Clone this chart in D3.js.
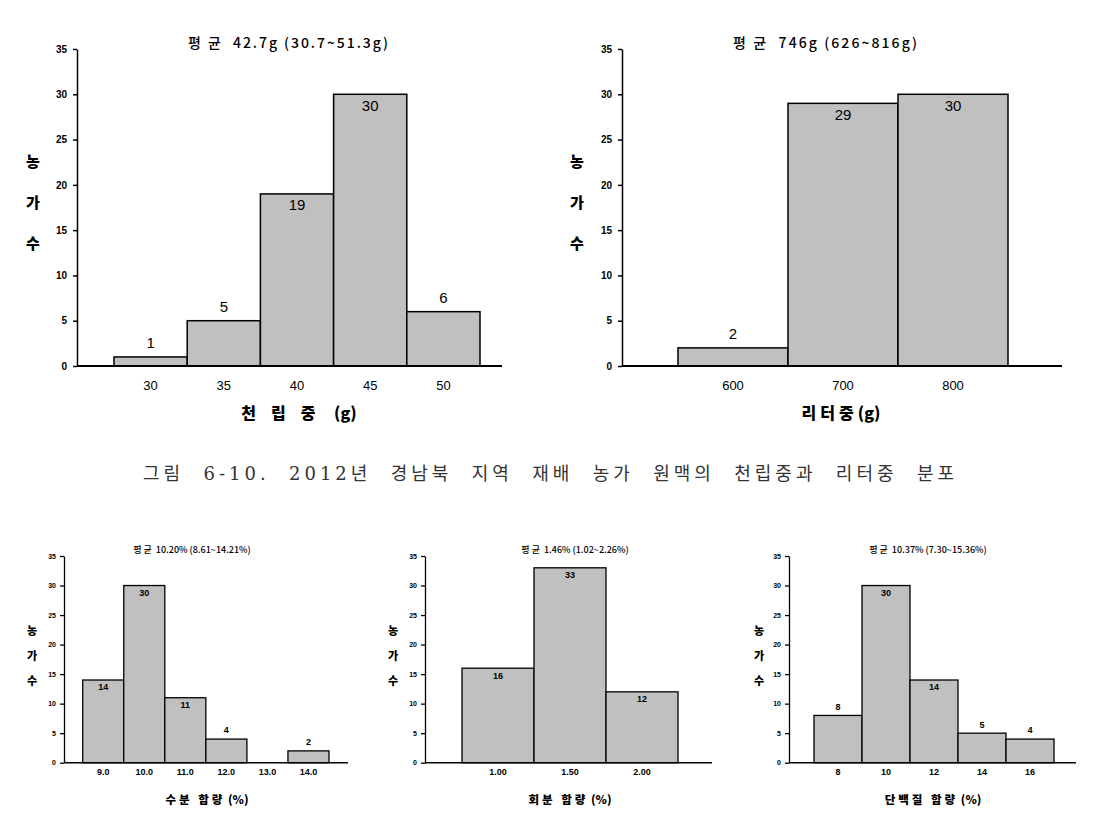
<!DOCTYPE html>
<html><head><meta charset="utf-8">
<script src="https://cdn.jsdelivr.net/npm/d3@7"></script>
<style>body{margin:0;background:#fff} svg{display:block} text{white-space:pre}</style>
</head><body>
<svg id="c" width="1102" height="827"></svg>
<script>
// ---------- data ----------
const tgwCats = ["30","35","40","45","50"];
const tgwVals = [1,5,19,30,6];
const litCats = ["600","700","800"];
const litVals = [2,29,30];
const moistCats = ["9.0","10.0","11.0","12.0","13.0","14.0"];
const moistVals = [14,30,11,4,0,2];
const ashCats = ["1.00","1.50","2.00"];
const ashVals = [16,33,12];
const protCats = ["8","10","12","14","16"];
const protVals = [8,30,14,5,4];
const yTickVals = [0,5,10,15,20,25,30,35];
const chartTitles = ["평 균  42.7g (30.7~51.3g)","평 균  746g (626~816g)","평 균  10.20% (8.61~14.21%)","평 균  1.46% (1.02~2.26%)","평 균  10.37% (7.30~15.36%)"];
const xTitles = [["천립중"," (g)"],["리터중","(g)"],["수분 함량"," (%)"],["회분 함량"," (%)"],["단백질 함량"," (%)"]];
const yTitleChars = ["농","가","수"];
const caption = "그림 6-10. 2012년 경남북 지역 재배 농가 원맥의 천립중과 리터중 분포";

// ---------- layout ----------
const big = {tickY:10, tickYPad:6, tickX:13, val:15, title:14, xt:16, yt:15, stroke:1.5, inOff:12.5, upOff:-12.5, tickPad:15, xtY:49, ytGap:41, small:false};
const small = {tickY:7, tickYPad:4, tickX:9, val:9, title:9, xt:11.5, yt:11, stroke:1.3, inOff:8, upOff:-8, tickPad:6, xtY:38.5, ytGap:25, small:true};
const layouts = [
  {cats:tgwCats, vals:tgwVals, ax:77, axEnd:502, y0:366, yTop:49, bL:114, bR:480, tx:288, ty:44, tw:200, yx:33, yty:163, xtx:299, ls:15, s:big},
  {cats:litCats, vals:litVals, ax:622, axEnd:1062, y0:366, yTop:49, bL:678, bR:1008, tx:825, ty:44, tw:184, yx:577, yty:163, xtx:841, ls:4, s:big},
  {cats:moistCats, vals:moistVals, ax:64, axEnd:348, y0:762.7, yTop:556, bL:82.7, bR:329, tx:192, ty:551, tw:0, yx:32, yty:632, xtx:207, ls:3, s:small},
  {cats:ashCats, vals:ashVals, ax:425, axEnd:712, y0:762.7, yTop:556, bL:462, bR:678, tx:575, ty:551, tw:0, yx:393, yty:632, xtx:570, ls:3, s:small},
  {cats:protCats, vals:protVals, ax:789, axEnd:1076, y0:762.7, yTop:556, bL:814, bR:1054, tx:928, ty:551, tw:0, yx:759, yty:632, xtx:933, ls:3, s:small}
];

const svg = d3.select("#c");
const KR = "'Noto Sans CJK KR','Noto Sans',sans-serif";
const NUM = "'Liberation Sans',Arial,sans-serif";

layouts.forEach((L, i) => {
  const s = L.s;
  const g = svg.append("g");
  const x = d3.scaleBand().domain(L.cats).range([L.bL, L.bR]).padding(0);
  const y = d3.scaleLinear().domain([0, 35]).range([L.y0, L.yTop]);

  const data = L.cats.map((c, k) => ({c, v: L.vals[k]})).filter(d => d.v > 0);
  g.selectAll("rect").data(data).join("rect")
    .attr("x", d => x(d.c)).attr("width", x.bandwidth())
    .attr("y", d => y(d.v)).attr("height", d => y(0) - y(d.v))
    .attr("fill", "#c0c0c0").attr("stroke", "#000").attr("stroke-width", s.stroke);

  g.selectAll("text.val").data(data).join("text").attr("class","val")
    .attr("x", d => x(d.c) + x.bandwidth()/2)
    .attr("y", d => y(d.v) + (d.v >= 10 ? s.inOff : s.upOff))
    .attr("dominant-baseline", "middle")
    .attr("text-anchor","middle").attr("font-family", NUM)
    .attr("font-size", s.val).attr("font-weight", s.small ? "bold" : "normal")
    .text(d => d.v);

  const ya = d3.axisLeft(y).tickValues(yTickVals).tickSize(4).tickSizeOuter(0).tickPadding(s.tickYPad);
  const yg = g.append("g").attr("transform", `translate(${L.ax},0)`).call(ya);
  yg.selectAll("path,line").attr("stroke","#000").attr("stroke-width", s.stroke);
  yg.selectAll("text").attr("font-family", NUM).attr("font-weight","900")
    .attr("font-size", s.tickY).attr("fill","#000");

  g.append("line").attr("x1", L.ax).attr("x2", L.axEnd).attr("y1", L.y0).attr("y2", L.y0)
    .attr("stroke","#000").attr("stroke-width", s.stroke + 0.3);

  const xa = d3.axisBottom(x).tickSize(0).tickPadding(s.tickPad);
  const xg = g.append("g").attr("transform", `translate(0,${L.y0})`).call(xa);
  xg.select(".domain").remove();
  xg.selectAll("text").attr("font-family", NUM).attr("font-size", s.tickX)
    .attr("font-weight", s.small ? "bold" : "normal").attr("fill","#000");

  const t = g.append("text").attr("x", L.tx).attr("y", L.ty).attr("text-anchor","middle")
    .attr("dominant-baseline","middle").attr("font-family", KR)
    .attr("font-size", s.title).attr("font-weight", "500").text(chartTitles[i]);
  if (L.tw) t.attr("textLength", L.tw).attr("lengthAdjust", "spacing");

  const xt = g.append("text").attr("x", L.xtx).attr("y", L.y0 + s.xtY).attr("text-anchor","middle")
    .attr("dominant-baseline","middle").attr("font-family", KR)
    .attr("font-size", s.xt).attr("font-weight","900");
  xt.append("tspan").attr("letter-spacing", L.ls).text(xTitles[i][0]);
  xt.append("tspan").text(xTitles[i][1]);

  g.selectAll("text.yt").data(yTitleChars).join("text").attr("class","yt")
    .attr("x", L.yx).attr("y", (d, k) => L.yty + k * s.ytGap)
    .attr("text-anchor","middle").attr("dominant-baseline","middle")
    .attr("font-family", KR).attr("font-size", s.yt).attr("font-weight","900").text(d => d);
});

// caption: justified to the reference width (letter spacing + stretched word gaps)
const cap = svg.append("text").attr("x", 143).attr("y", 475).attr("dominant-baseline","middle")
  .attr("font-family", "'DejaVu Serif','Noto Sans CJK KR',serif").attr("font-size", 18)
  .attr("letter-spacing", 4).attr("fill","#333").text(caption);
const capLen = cap.node().getBBox().width;
const nSpaces = caption.split(" ").length - 1;
cap.attr("word-spacing", Math.max(0, (815 - capLen) / nSpaces));
</script>
</body></html>
